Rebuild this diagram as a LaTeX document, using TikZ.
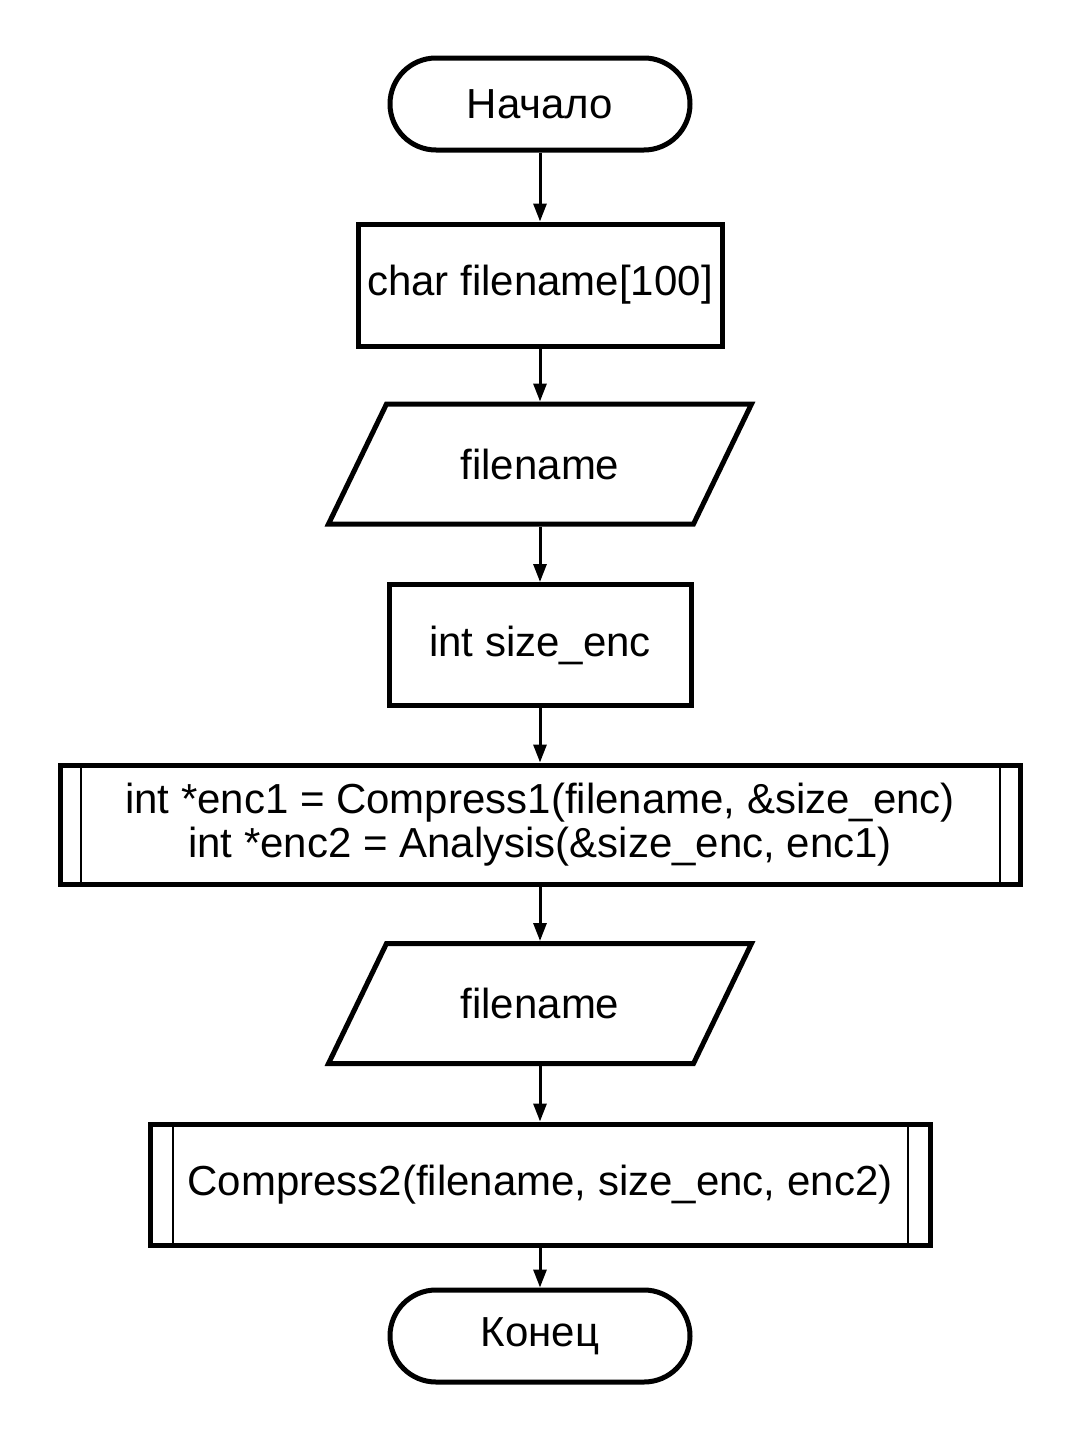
\documentclass[tikz,border=0pt]{standalone}
\usepackage{fontspec}
\setmainfont{Liberation Sans}
\usetikzlibrary{arrows.meta,calc}
\begin{document}
\begin{tikzpicture}[x=1pt,y=-1pt,
  every node/.style={font=\fontsize{42}{44}\selectfont, align=center, inner sep=0pt},
  term/.style={draw, line width=5pt, rounded corners=46pt, minimum width=300pt, minimum height=92pt},
  proc/.style={draw, line width=5pt},
  io/.style={minimum width=360pt, minimum height=120pt, outer sep=2.5pt},
  ioshape/.style={draw, line width=5pt, line join=miter},
  inner/.style={line width=2pt},
  conn/.style={line width=3pt, -{Triangle[length=18pt,width=13pt]}}]
\fill[white] (0,0) rectangle (1080,1440);
\useasboundingbox (0,0) rectangle (1080,1440);

\node[term] (start) at (540,104) {Начало};
\node[proc, minimum width=364pt, minimum height=122pt] (decl) at (540,285) {char filename[100]};
\node[io] (in1) at (540,464) {filename};
\draw[ioshape] ($(in1.north west)+(29,2.5)$) -- ($(in1.north east)+(29,2.5)$) -- ($(in1.south east)+(-29,-2.5)$) -- ($(in1.south west)+(-29,-2.5)$) -- cycle;
\node[proc, minimum width=302pt, minimum height=121pt] (var) at (540,645) {int size\_enc};
\node[proc, minimum width=960pt, minimum height=119pt] (call1) at (540,824.5) {int *enc1 = Compress1(filename, \&size\_enc)\\int *enc2 = Analysis(\&size\_enc, enc1)};
\draw[inner] ($(call1.north west)+(23,2.5)$) -- ($(call1.south west)+(23,-2.5)$);
\draw[inner] ($(call1.north east)+(-23,2.5)$) -- ($(call1.south east)+(-23,-2.5)$);
\node[io] (out1) at (540,1003.5) {filename};
\draw[ioshape] ($(out1.north west)+(29,2.5)$) -- ($(out1.north east)+(29,2.5)$) -- ($(out1.south east)+(-29,-2.5)$) -- ($(out1.south west)+(-29,-2.5)$) -- cycle;
\node[proc, minimum width=780pt, minimum height=121pt] (call2) at (540,1184.5) {Compress2(filename, size\_enc, enc2)};
\draw[inner] ($(call2.north west)+(25,2.5)$) -- ($(call2.south west)+(25,-2.5)$);
\draw[inner] ($(call2.north east)+(-25,2.5)$) -- ($(call2.south east)+(-25,-2.5)$);
\node[term] (stop) at (540,1336) {Конец};

\draw[conn] (start) -- (decl);
\draw[conn] (decl) -- (in1);
\draw[conn] (in1) -- (var);
\draw[conn] (var) -- (call1);
\draw[conn] (call1) -- (out1);
\draw[conn] (out1) -- (call2);
\draw[conn] (call2) -- (stop);
\end{tikzpicture}
\end{document}
